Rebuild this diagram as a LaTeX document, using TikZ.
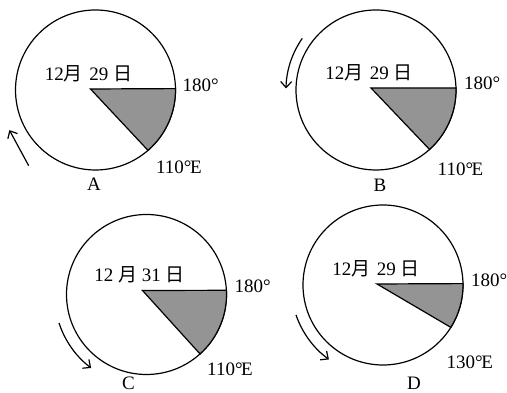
\documentclass[tikz,border=0pt]{standalone}
\usepackage{fontspec}
\setmainfont{Liberation Serif}
\newfontfamily\cjk{Noto Sans CJK SC}
\usepackage{tikz}
\usetikzlibrary{positioning,arrows.meta}

\begin{document}
\begin{tikzpicture}[x=1pt, y=1pt, font=\fontsize{19}{21}\selectfont, >={Straight Barb[length=6pt,width=11pt]},
    earth/.style={draw, circle, line width=1.2pt, minimum size=160pt, inner sep=0pt, outer sep=0pt},
    night/.style={draw, line width=1.2pt, fill=black!42},
    turn/.style={->, line width=1.2pt},
    txt/.style={inner sep=0pt}]
    \useasboundingbox (0,0) rectangle (507,393);

    \node [earth] (earthA) at (95.5,303) {};
    \draw [night] ([shift={(-5,1)}]earthA.center) coordinate (vA) -- ([shift={(1:80)}]earthA.center) arc[start angle=1, end angle=-49, radius=80] coordinate (eA) -- cycle;
    \node [txt, above=7pt of vA, xshift=-2pt] (dateA) {12{\cjk 月}\,\,29 {\cjk 日}};
    \node [txt, right=7pt of earthA.east, yshift=5pt] (lineA) {180°};
    \node [txt, below right=10pt and 8pt of eA] (meridA) {110°\kern-1.5pt E};
    \node [txt, below=8pt of earthA, xshift=-1.5pt] (tagA) {A};
    \draw [turn] ([shift={(228.6:101)}]earthA.center) -- ([shift={(205:95)}]earthA.center);

    \node [earth] (earthB) at (376,303) {};
    \draw [night] ([shift={(-5,2)}]earthB.center) coordinate (vB) -- ([shift={(1.5:80)}]earthB.center) arc[start angle=1.5, end angle=-48, radius=80] coordinate (eB) -- cycle;
    \node [txt, above=7pt of vB, xshift=-2pt] (dateB) {12{\cjk 月}\,\,29 {\cjk 日}};
    \node [txt, right=8pt of earthB.east, yshift=7pt] (lineB) {180°};
    \node [txt, below right=13pt and 8pt of eB] (meridB) {110°\kern-1.5pt E};
    \node [txt, below=9pt of earthB, xshift=4pt] (tagB) {B};
    \draw [turn] ([shift={(145:90)}]earthB.center) arc[start angle=145, end angle=179, radius=90];

    \node [earth] (earthC) at (146.5,98.5) {};
    \draw [night] ([shift={(-4,4)}]earthC.center) coordinate (vC) -- ([shift={(3:80)}]earthC.center) arc[start angle=3, end angle=-48, radius=80] coordinate (eC) -- cycle;
    \node [txt, above=7pt of vC, xshift=-3pt] (dateC) {12 {\cjk 月} 31 {\cjk 日}};
    \node [txt, right=8pt of earthC.east, yshift=8pt] (lineC) {180°};
    \node [txt, below right=9pt and 7pt of eC] (meridC) {110°\kern-1.5pt E};
    \node [txt, below=2pt of earthC, xshift=-18pt] (tagC) {C};
    \draw [turn] ([shift={(198:92)}]earthC.center) arc[start angle=198, end angle=233, radius=92];

    \node [earth] (earthD) at (383,108) {};
    \draw [night] ([shift={(-6,1)}]earthD.center) coordinate (vD) -- ([shift={(1:80)}]earthD.center) arc[start angle=1, end angle=-32, radius=80] coordinate (eD) -- cycle;
    \node [txt, above=7pt of vD, xshift=-1pt] (dateD) {12{\cjk 月}\,\,29 {\cjk 日}};
    \node [txt, right=8pt of earthD.east, yshift=5pt] (lineD) {180°};
    \node [txt, below=28pt of eD, xshift=19pt] (meridD) {130°\kern-1.5pt E};
    \node [txt, below=12pt of earthD, xshift=31pt] (tagD) {D};
    \draw [turn] ([shift={(199:92)}]earthD.center) arc[start angle=199, end angle=234, radius=92];
\end{tikzpicture}
\end{document}
